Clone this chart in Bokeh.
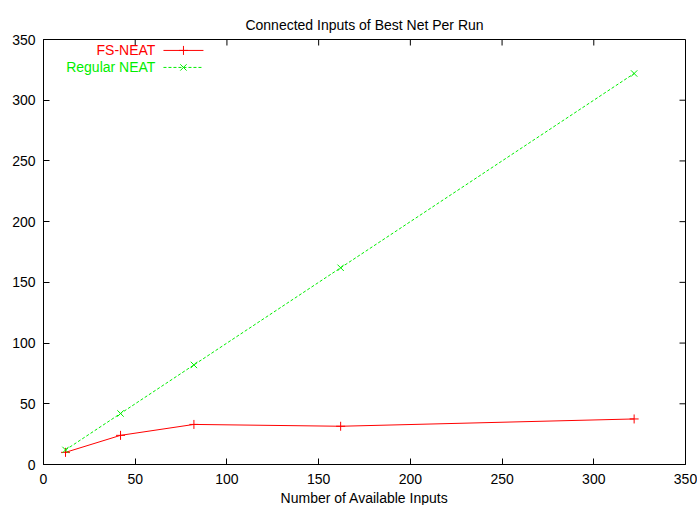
import math
from bokeh.plotting import figure
from bokeh.models import Range1d, FixedTicker, Label
from bokeh.embed import file_html
from bokeh.resources import INLINE

# ---- data ----
inputs = [12, 42, 82, 162, 322]
fs_neat = [10, 24, 33, 31.5, 37.5]
regular_neat = [12, 42, 82, 162, 322]
ticks = [0, 50, 100, 150, 200, 250, 300, 350]
series_names = ["FS-NEAT", "Regular NEAT"]
title_text = "Connected Inputs of Best Net Per Run"
x_label = "Number of Available Inputs"

X_MAX = 350
Y_MAX = 350
RED = "#ff0000"
GREEN = "#00ee00"
FONT = "Liberation Sans"

p = figure(output_backend="svg", toolbar_location=None,
           frame_width=642, frame_height=425,
           x_range=Range1d(0, X_MAX), y_range=Range1d(0, Y_MAX),
           min_border_left=43, min_border_right=12,
           min_border_top=39, min_border_bottom=41,
           title=title_text)

p.title.align = "center"
p.title.vertical_align = "top"
p.title.text_font = FONT
p.title.text_font_size = "14px"
p.title.text_font_style = "normal"
p.title.text_color = "black"
p.title.text_line_height = 0.8
p.title.standoff = 10

p.xgrid.visible = False
p.ygrid.visible = False
p.outline_line_color = "black"
p.outline_line_width = 1
p.background_fill_color = "white"
p.border_fill_color = "white"

for ax in (p.xaxis[0], p.yaxis[0]):
    ax.ticker = FixedTicker(ticks=ticks)
    ax.major_tick_in = 6
    ax.major_tick_out = 0
    ax.minor_tick_in = 0
    ax.minor_tick_out = 0
    ax.axis_line_color = "black"
    ax.major_tick_line_color = "black"
    ax.major_label_text_font = FONT
    ax.major_label_text_font_size = "14px"
    ax.major_label_text_color = "black"
p.xaxis[0].major_label_standoff = 9
p.yaxis[0].major_label_standoff = 8
p.xaxis[0].axis_label = x_label
p.xaxis[0].axis_label_text_font = FONT
p.xaxis[0].axis_label_text_font_size = "14px"
p.xaxis[0].axis_label_text_font_style = "normal"
p.xaxis[0].axis_label_text_color = "black"
p.xaxis[0].axis_label_standoff = 3

# mirrored inward ticks on the top and right borders (gnuplot style)
p.ray(x=ticks, y=[Y_MAX] * len(ticks), length=6, length_units="screen",
      angle=-math.pi / 2, line_color="black", line_width=1)
p.ray(x=[X_MAX] * len(ticks), y=ticks, length=6, length_units="screen",
      angle=math.pi, line_color="black", line_width=1)

# ---- series ----
p.line(inputs, fs_neat, line_color=RED, line_width=1)
p.scatter(inputs, fs_neat, marker="cross", size=9, line_color=RED, line_width=1)
p.line(inputs, regular_neat, line_color=GREEN, line_width=1, line_dash="3 2")
p.scatter(inputs, regular_neat, marker="x", size=9, line_color=GREEN, line_width=1)

# ---- key (gnuplot style: text right-aligned, sample to its right) ----
key_text_x = 61
key_sample_x = [65.4, 87.2]
key_rows_y = [341, 327]
key_dashes = ["solid", "3 2"]
key_markers = ["cross", "x"]
for name, color, ky, dash, mk in zip(series_names, [RED, GREEN], key_rows_y,
                                     key_dashes, key_markers):
    p.add_layout(Label(x=key_text_x, y=ky, text=name, text_align="right",
                       text_baseline="middle", text_color=color,
                       text_font=FONT, text_font_size="14px"))
    p.line(key_sample_x, [ky, ky], line_color=color, line_width=1, line_dash=dash)
    p.scatter([sum(key_sample_x) / 2], [ky], marker=mk, size=9,
              line_color=color, line_width=1)

open("out.html", "w").write(file_html(p, INLINE))
